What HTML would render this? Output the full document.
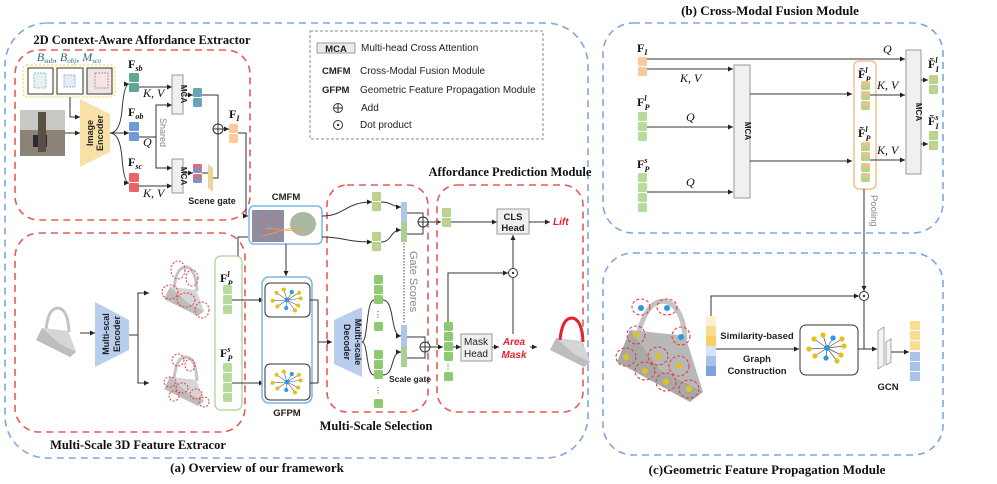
<!DOCTYPE html>
<html><head><meta charset="utf-8"><style>
html,body{margin:0;padding:0;background:#fff}
svg{display:block}
.t{font-family:"Liberation Serif",serif;font-weight:bold;font-size:12.5px;fill:#111}
.s{font-family:"Liberation Sans",sans-serif;font-size:10px;fill:#222}
.sb{font-family:"Liberation Sans",sans-serif;font-size:9.5px;font-weight:bold;fill:#222}
.m{font-family:"Liberation Serif",serif;font-style:italic;font-size:12px;fill:#111}
.F{font-family:"Liberation Serif",serif;font-weight:bold;font-size:12px;fill:#111}
.sub{font-family:"Liberation Serif",serif;font-style:italic;font-size:8px;fill:#111}
.ln{stroke:#333;stroke-width:1;fill:none}
</style></head><body>
<svg width="997" height="484" viewBox="0 0 997 484" xmlns="http://www.w3.org/2000/svg">
<defs>
<marker id="a" markerWidth="6" markerHeight="6" refX="5" refY="3" orient="auto"><path d="M0,0.5 L5,3 L0,5.5z" fill="#222"/></marker>
<linearGradient id="rb" x1="0" y1="0" x2="0" y2="1"><stop offset="0" stop-color="#e86a6a"/><stop offset="1" stop-color="#6f98d8"/></linearGradient>
<linearGradient id="tb" x1="0" y1="0" x2="0" y2="1"><stop offset="0" stop-color="#5fae98"/><stop offset="1" stop-color="#6f9ad8"/></linearGradient>
<linearGradient id="og" x1="0" y1="0" x2="0" y2="1"><stop offset="0" stop-color="#f6c08e"/><stop offset="1" stop-color="#a8d58a"/></linearGradient>
<linearGradient id="bg" x1="0" y1="0" x2="0" y2="1"><stop offset="0" stop-color="#aec6ea"/><stop offset="0.5" stop-color="#aec6ea"/><stop offset="0.5" stop-color="#a8d095"/><stop offset="1" stop-color="#a8d095"/></linearGradient>
<radialGradient id="gd"><stop offset="0" stop-color="#f0c090"/><stop offset="1" stop-color="#a6d98c"/></radialGradient>
<g id="graph">
<g stroke="#555" stroke-width="0.7"><line x1="0" y1="0" x2="-13" y2="-9"/><line x1="0" y1="0" x2="-4" y2="-13"/><line x1="0" y1="0" x2="6" y2="-10"/><line x1="0" y1="0" x2="15" y2="-9"/><line x1="0" y1="0" x2="17" y2="-2"/><line x1="0" y1="0" x2="14" y2="7"/><line x1="0" y1="0" x2="10" y2="13"/><line x1="0" y1="0" x2="-1" y2="10"/><line x1="0" y1="0" x2="-12" y2="8"/><line x1="0" y1="0" x2="-18" y2="1"/></g>
<g fill="#e2c21a"><circle cx="-13" cy="-9" r="2.6"/><circle cx="-4" cy="-13" r="2.6"/><circle cx="15" cy="-9" r="2.6"/><circle cx="17" cy="-2" r="2.6"/><circle cx="14" cy="7" r="2.6"/><circle cx="10" cy="13" r="2.6"/><circle cx="-12" cy="8" r="2.6"/><circle cx="-18" cy="1" r="2.6"/></g>
<g fill="#2a9ae0"><circle cx="0" cy="0" r="3"/><circle cx="6" cy="-10" r="2.6"/><circle cx="-1" cy="10" r="2.6"/></g>
</g>
<g id="bag">
<path d="M10,24 Q12,2 22,2 Q32,3 33,26" fill="none" stroke="#c4c4c4" stroke-width="3"/>
<polygon points="6,22 32,25 40,46 34,51 0,34" fill="#bdbdbd"/>
<polygon points="6,22 32,25 40,46 24,38" fill="#d6d6d6"/>
</g>
</defs>

<!-- (a) outer -->
<rect x="5" y="23" width="583" height="435" rx="42" fill="none" stroke="#7ea6e0" stroke-width="1.6" stroke-dasharray="7,5"/>
<text class="t" x="257" y="472" text-anchor="middle" style="font-size:13px">(a) Overview of our framework</text>

<!-- 2D extractor -->
<rect x="15" y="50" width="235" height="170" rx="24" fill="none" stroke="#e85a5a" stroke-width="1.6" stroke-dasharray="7,5"/>
<text class="t" x="142" y="44" text-anchor="middle">2D Context-Aware Affordance Extractor</text>
<rect x="23" y="65" width="92" height="32" rx="4" fill="#fffbe8" stroke="#f2cf60" stroke-width="1" stroke-dasharray="2,2"/>
<text x="69" y="61" text-anchor="middle" style="font-family:'Liberation Serif',serif;font-style:italic;font-size:12px;fill:#2d6b78">B<tspan font-size="7" dy="2">sub</tspan><tspan dy="-2">, B</tspan><tspan font-size="7" dy="2">obj</tspan><tspan dy="-2">, M</tspan><tspan font-size="7" dy="2">sce</tspan></text>
<rect x="28" y="68" width="25" height="26" fill="#fff" stroke="#333"/><rect x="34" y="73" width="12" height="15" fill="#e6f0ec" stroke="#7ab3a0" stroke-dasharray="2,1" stroke-width="0.7"/>
<rect x="57" y="68" width="26" height="26" fill="#fff" stroke="#333"/><rect x="64" y="75" width="11" height="12" fill="#e6ecf6" stroke="#7b9ed8" stroke-dasharray="2,1" stroke-width="0.7"/>
<rect x="87" y="68" width="25" height="26" fill="#e8e8e8" stroke="#333"/><rect x="95" y="73" width="13" height="15" fill="#f6e3e3" stroke="#e06060" stroke-dasharray="2,1" stroke-width="0.7"/>
<rect x="20" y="110" width="45" height="46" fill="#8b8278"/><rect x="20" y="110" width="45" height="20" fill="#c9c9c4"/><rect x="33" y="135" width="14" height="12" fill="#2a2a30"/><rect x="38" y="112" width="8" height="40" fill="#5a4f45"/>
<polygon points="80,99 110,114 110,152 80,167" fill="#f8e0a6"/>
<text class="sb" transform="translate(93,133) rotate(-90)" text-anchor="middle" style="font-size:9px">Image</text>
<text class="sb" transform="translate(103,133) rotate(-90)" text-anchor="middle" style="font-size:9px">Encoder</text>
<path class="ln" d="M70,97 V117 H80" marker-end="url(#a)"/>
<path class="ln" d="M65,133 H80" marker-end="url(#a)"/>
<path class="ln" d="M110,133 Q120,133 122,110 Q124,84 129,84" marker-end="url(#a)"/>
<path class="ln" d="M110,133 H129" marker-end="url(#a)"/>
<path class="ln" d="M110,133 Q120,133 122,158 Q124,183 129,183" marker-end="url(#a)"/>
<text class="F" x="128" y="68">F<tspan class="sub" dy="3">sb</tspan></text>
<rect x="129" y="73" width="10" height="9" rx="1.5" fill="#5fa896"/><rect x="129" y="83" width="10" height="9" rx="1.5" fill="#5fa896"/>
<text class="F" x="128" y="116">F<tspan class="sub" dy="3">ob</tspan></text>
<rect x="129" y="122" width="10" height="9" rx="1.5" fill="#6f9ad8"/><rect x="129" y="132" width="10" height="9" rx="1.5" fill="#6f9ad8"/>
<text class="F" x="128" y="166">F<tspan class="sub" dy="3">sc</tspan></text>
<rect x="129" y="173" width="10" height="9" rx="1.5" fill="#e86565"/><rect x="129" y="183" width="10" height="9" rx="1.5" fill="#e86565"/>
<text class="m" x="143" y="97">K, V</text><text class="m" x="143" y="146">Q</text><text class="m" x="143" y="197">K, V</text>
<path class="ln" d="M139,87 H172" marker-end="url(#a)"/>
<path class="ln" d="M139,137 H156 V105 H172" marker-end="url(#a)"/>
<path class="ln" d="M156,137 V168 H172" marker-end="url(#a)"/>
<path class="ln" d="M139,186 H172" marker-end="url(#a)"/>
<text class="s" transform="translate(160,118) rotate(90)" style="fill:#888;font-size:9px">Shared</text>
<rect x="172" y="75" width="11" height="39" fill="#f0f0f0" stroke="#999"/>
<text class="sb" transform="translate(181,94) rotate(90)" text-anchor="middle" style="font-size:8px">MCA</text>
<rect x="172" y="159" width="11" height="34" fill="#f0f0f0" stroke="#999"/>
<text class="sb" transform="translate(181,176) rotate(90)" text-anchor="middle" style="font-size:8px">MCA</text>
<path class="ln" d="M183,95 H193" marker-end="url(#a)"/>
<rect x="193" y="88" width="9" height="9" rx="1.5" fill="url(#tb)"/><rect x="193" y="98" width="9" height="9" rx="1.5" fill="url(#tb)"/>
<path class="ln" d="M183,173 H193" marker-end="url(#a)"/>
<rect x="193" y="164" width="9" height="9" rx="1.5" fill="url(#rb)"/><rect x="193" y="174" width="9" height="9" rx="1.5" fill="url(#rb)"/>
<path class="ln" d="M202,173 H208"/>
<polygon points="208,164 213,168 213,192 208,188" fill="#ecd39a"/>
<path class="ln" d="M202,95 H218 V124"/>
<path class="ln" d="M213,178 H218 V134"/>
<circle cx="218" cy="129" r="5" fill="#fff" stroke="#333"/><path class="ln" d="M213,129 H223 M218,124 V134"/>
<path class="ln" d="M223,129 H229" marker-end="url(#a)"/>
<text class="F" x="229" y="118">F<tspan class="sub" dy="3">I</tspan></text>
<rect x="229" y="124" width="9" height="9" rx="1.5" fill="#fcc99a"/><rect x="229" y="134" width="9" height="9" rx="1.5" fill="#fcc99a"/>
<text class="sb" x="212" y="204" text-anchor="middle" style="font-size:9px">Scene gate</text>
<path class="ln" d="M238,133 H246 V216 H248" marker-end="url(#a)"/>

<!-- legend -->
<rect x="310" y="31" width="233" height="108" fill="none" stroke="#888" stroke-dasharray="3,2"/>
<rect x="317" y="43" width="38" height="10" fill="#ececec" stroke="#999"/>
<text class="sb" x="336" y="52" text-anchor="middle">MCA</text>
<text class="s" x="361" y="51">Multi-head Cross Attention</text>
<text class="sb" x="322" y="74">CMFM</text><text class="s" x="360" y="74">Cross-Modal Fusion Module</text>
<text class="sb" x="322" y="93">GFPM</text><text class="s" x="360" y="93">Geometric Feature Propagation Module</text>
<circle cx="338" cy="108" r="4.5" fill="#fff" stroke="#333"/><path class="ln" d="M333.5,108 H342.5 M338,103.5 V112.5"/>
<text class="s" x="361" y="111">Add</text>
<circle cx="338" cy="125" r="4.5" fill="#fff" stroke="#333"/><circle cx="338" cy="125" r="1.2" fill="#333"/>
<text class="s" x="360" y="128">Dot product</text>

<!-- CMFM -->
<text class="sb" x="286" y="200" text-anchor="middle">CMFM</text>
<rect x="249" y="206" width="73" height="38" rx="5" fill="#fff" stroke="#7bb6ee" stroke-width="1.5"/>
<rect x="252" y="210" width="32" height="32" fill="#8f8ea0"/><path d="M252,221 H284 M252,232 H284 M263,210 V242 M274,210 V242" stroke="#d66" stroke-width="0.6"/>
<ellipse cx="303" cy="224" rx="13" ry="12" fill="#a9b8a0"/><path d="M262,236 L300,226 M266,228 L305,232" stroke="#f0a040" stroke-width="0.8"/>
<path class="ln" d="M238,256 V237 H248" />
<path class="ln" d="M286,244 V276" marker-end="url(#a)"/>

<!-- 3D extractor -->
<rect x="15" y="233" width="230" height="199" rx="24" fill="none" stroke="#e85a5a" stroke-width="1.6" stroke-dasharray="7,5"/>
<text class="t" x="138" y="449" text-anchor="middle">Multi-Scale 3D Feature Extracor</text>
<use href="#bag" x="36" y="306"/>
<path class="ln" d="M80,333 H95" marker-end="url(#a)"/>
<polygon points="95,302 129,320 129,350 95,367" fill="#b9cdee"/>
<text class="sb" transform="translate(109,334) rotate(-90)" text-anchor="middle" style="font-size:9px">Multi-scal</text>
<text class="sb" transform="translate(120,334) rotate(-90)" text-anchor="middle" style="font-size:9px">Encoder</text>
<path class="ln" d="M129,335 H138 V293 H148 M138,335 V383 H148"/>
<path class="ln" d="M140,293 H149" marker-end="url(#a)"/><path class="ln" d="M140,383 H149" marker-end="url(#a)"/>
<use href="#bag" x="164" y="265"/>
<use href="#bag" x="164" y="355"/>
<g fill="none" stroke="#e83c3c" stroke-dasharray="2,1.5" stroke-width="1">
<ellipse cx="178" cy="270" rx="7" ry="9"/><ellipse cx="192" cy="278" rx="6" ry="8"/><ellipse cx="170" cy="292" rx="8" ry="7"/><ellipse cx="186" cy="300" rx="9" ry="7"/><ellipse cx="202" cy="310" rx="7" ry="8"/>
<ellipse cx="178" cy="360" rx="6" ry="6"/><ellipse cx="190" cy="365" rx="5" ry="6"/><ellipse cx="170" cy="382" rx="6" ry="5"/><ellipse cx="182" cy="388" rx="6" ry="5"/><ellipse cx="196" cy="394" rx="6" ry="5"/><ellipse cx="204" cy="402" rx="5" ry="5"/><ellipse cx="174" cy="396" rx="5" ry="5"/>
</g>
<rect x="215" y="256" width="27" height="154" rx="6" fill="none" stroke="#a8d28c" stroke-width="1.2"/>
<text class="F" x="220" y="282">F<tspan class="sub" dy="-5">l</tspan><tspan class="sub" dx="-2" dy="9">P</tspan></text>
<g fill="#b6dc9c"><rect x="223" y="285" width="9" height="9" rx="1.5"/><rect x="223" y="295" width="9" height="9" rx="1.5"/><rect x="223" y="305" width="9" height="9" rx="1.5"/></g>
<text class="F" x="220" y="357">F<tspan class="sub" dy="-5">s</tspan><tspan class="sub" dx="-3" dy="9">P</tspan></text>
<g fill="#b6dc9c"><rect x="223" y="363" width="9" height="9" rx="1.5"/><rect x="223" y="373" width="9" height="9" rx="1.5"/><rect x="223" y="383" width="9" height="9" rx="1.5"/><rect x="223" y="393" width="9" height="9" rx="1.5"/></g>
<path class="ln" d="M232,300 H264" marker-end="url(#a)"/><path class="ln" d="M232,383 H264" marker-end="url(#a)"/>

<!-- GFPM -->
<rect x="262" y="277" width="50" height="126" rx="7" fill="#fff" stroke="#7bb6ee" stroke-width="1.5"/>
<rect x="265" y="283" width="45" height="34" rx="5" fill="#fff" stroke="#333"/>
<rect x="265" y="364" width="45" height="36" rx="5" fill="#fff" stroke="#333"/>
<use href="#graph" transform="translate(287,300) scale(0.8)"/>
<use href="#graph" transform="translate(287,382) scale(0.8)"/>
<text class="sb" x="287" y="416" text-anchor="middle">GFPM</text>
<path class="ln" d="M310,300 H318 V383 H310 M318,342 H332" marker-end="url(#a)"/>

<!-- Multi-scale selection -->
<rect x="327" y="185" width="101" height="227" rx="20" fill="none" stroke="#e85a5a" stroke-width="1.6" stroke-dasharray="7,5"/>
<text class="t" x="376" y="430" text-anchor="middle">Multi-Scale Selection</text>
<polygon points="334,320 362,307 362,377 334,364" fill="#b9cdee"/>
<text class="sb" transform="translate(344,342) rotate(90)" text-anchor="middle" style="font-size:9px">Decoder</text>
<text class="sb" transform="translate(355,342) rotate(90)" text-anchor="middle" style="font-size:9px">Multi-scale</text>
<path class="ln" d="M322,216 C345,216 345,202 372,202" marker-end="url(#a)"/>
<path class="ln" d="M322,237 C345,237 345,242 372,242" marker-end="url(#a)"/>
<g fill="url(#gd)"><rect x="372" y="192" width="9" height="9" rx="1.5"/><rect x="372" y="202" width="9" height="9" rx="1.5"/><rect x="372" y="232" width="9" height="9" rx="1.5"/><rect x="372" y="242" width="9" height="9" rx="1.5"/></g>
<path class="ln" d="M381,202 C392,202 392,207 401,207" marker-end="url(#a)"/>
<path class="ln" d="M381,242 C392,242 390,230 401,230" marker-end="url(#a)"/>
<rect x="401" y="202" width="6" height="40" fill="url(#bg)"/>
<path class="ln" d="M407,213 H423 V217 M407,234 H423 V227"/>
<circle cx="423" cy="222" r="5" fill="#fff" stroke="#333"/><path class="ln" d="M418,222 H428 M423,217 V227"/>
<path class="ln" d="M428,222 H441" marker-end="url(#a)"/>
<g fill="#8fca72"><rect x="374" y="275" width="9" height="9" rx="1.5"/><rect x="374" y="285" width="9" height="9" rx="1.5"/><rect x="374" y="295" width="9" height="9" rx="1.5"/><rect x="374" y="322" width="9" height="9" rx="1.5"/>
<rect x="374" y="350" width="9" height="9" rx="1.5"/><rect x="374" y="360" width="9" height="9" rx="1.5"/><rect x="374" y="370" width="9" height="9" rx="1.5"/><rect x="374" y="399" width="9" height="9" rx="1.5"/></g>
<text class="s" x="378" y="317" text-anchor="middle" style="font-size:8px">⋮</text><text class="s" x="378" y="393" text-anchor="middle" style="font-size:8px">⋮</text>
<path class="ln" d="M362,342 C368,342 366,300 374,300 M362,342 C368,342 366,375 374,375"/>
<path class="ln" d="M383,300 C395,300 390,336 401,336" marker-end="url(#a)"/>
<path class="ln" d="M383,375 C395,375 390,352 401,352" marker-end="url(#a)"/>
<rect x="401" y="325" width="6" height="42" fill="url(#bg)"/>
<path d="M404,243 V324" stroke="#444" stroke-dasharray="1.5,1.5"/>
<text class="s" transform="translate(410,251) rotate(90)" style="fill:#888;font-size:11px">Gate Scores</text>
<text class="sb" x="410" y="382" text-anchor="middle" style="font-size:8.5px">Scale gate</text>
<path class="ln" d="M407,337 H425 V342 M407,358 H425 V352"/>
<circle cx="425" cy="347" r="5" fill="#fff" stroke="#333"/><path class="ln" d="M420,347 H430 M425,342 V352"/>
<path class="ln" d="M430,347 H443" marker-end="url(#a)"/>

<!-- Affordance prediction -->
<rect x="437" y="185" width="146" height="227" rx="20" fill="none" stroke="#e85a5a" stroke-width="1.6" stroke-dasharray="7,5"/>
<text class="t" x="510" y="176" text-anchor="middle">Affordance Prediction Module</text>
<g fill="url(#gd)"><rect x="442" y="208" width="9" height="9" rx="1.5"/><rect x="442" y="218" width="9" height="9" rx="1.5"/></g>
<path class="ln" d="M451,222 H497" marker-end="url(#a)"/>
<rect x="497" y="209" width="32" height="25" fill="#f0f0f0" stroke="#999"/>
<text class="sb" x="513" y="220" text-anchor="middle">CLS</text><text class="sb" x="513" y="231" text-anchor="middle">Head</text>
<path class="ln" d="M529,222 H550" marker-end="url(#a)"/>
<text x="553" y="225" style="font-family:'Liberation Sans',sans-serif;font-weight:bold;font-style:italic;font-size:10px;fill:#e8222a">Lift</text>
<g fill="#8fca72"><rect x="444" y="322" width="9" height="9" rx="1.5"/><rect x="444" y="332" width="9" height="9" rx="1.5"/><rect x="444" y="342" width="9" height="9" rx="1.5"/><rect x="444" y="352" width="9" height="9" rx="1.5"/><rect x="444" y="372" width="9" height="9" rx="1.5"/></g>
<text class="s" x="448" y="369" text-anchor="middle" style="font-size:7px">⋮</text>
<path class="ln" d="M448,322 V273 H508" marker-end="url(#a)"/>
<circle cx="513" cy="273" r="4.5" fill="#fff" stroke="#333"/><circle cx="513" cy="273" r="1.2" fill="#333"/>
<path class="ln" d="M513,268 V235" marker-end="url(#a)"/>
<path class="ln" d="M513,334 V278"/>
<path class="ln" d="M453,347 H461" marker-end="url(#a)"/>
<rect x="461" y="334" width="31" height="27" fill="#f0f0f0" stroke="#999"/>
<text class="s" x="476" y="345" text-anchor="middle">Mask</text><text class="s" x="476" y="357" text-anchor="middle">Head</text>
<path class="ln" d="M492,347 H499" marker-end="url(#a)"/>
<g style="font-family:'Liberation Sans',sans-serif;font-weight:bold;font-style:italic;font-size:10px;fill:#e8222a"><text x="514" y="345" text-anchor="middle">Area</text><text x="514" y="358" text-anchor="middle">Mask</text></g>
<path class="ln" d="M530,347 H537" marker-end="url(#a)"/>
<use href="#bag" x="550" y="316"/>
<path d="M560,340 Q562,318 572,318 Q582,319 583,342" fill="none" stroke="#e8222a" stroke-width="3"/>

<!-- (b) CMFM -->
<text class="t" x="770" y="15" text-anchor="middle" style="font-size:13px">(b) Cross-Modal Fusion Module</text>
<rect x="603" y="23" width="340" height="210" rx="30" fill="none" stroke="#7ea6e0" stroke-width="1.6" stroke-dasharray="7,5"/>
<text class="F" x="637" y="52">F<tspan class="sub" dy="3">I</tspan></text>
<rect x="638" y="57" width="9" height="9" rx="1.5" fill="#fcc99a"/><rect x="638" y="67" width="9" height="9" rx="1.5" fill="#fcc99a"/>
<path class="ln" d="M647,59 H905" marker-end="url(#a)"/><text class="m" x="883" y="53">Q</text>
<path class="ln" d="M647,69 H733" marker-end="url(#a)"/><text class="m" x="680" y="82">K, V</text>
<text class="F" x="637" y="106">F<tspan class="sub" dy="-5">l</tspan><tspan class="sub" dx="-2" dy="9">P</tspan></text>
<g fill="#b6dc9c"><rect x="638" y="112" width="9" height="9" rx="1.5"/><rect x="638" y="122" width="9" height="9" rx="1.5"/><rect x="638" y="132" width="9" height="9" rx="1.5"/></g>
<path class="ln" d="M647,127 H733" marker-end="url(#a)"/><text class="m" x="686" y="121">Q</text>
<text class="F" x="637" y="168">F<tspan class="sub" dy="-5">s</tspan><tspan class="sub" dx="-3" dy="9">P</tspan></text>
<g fill="#b6dc9c"><rect x="638" y="173" width="9" height="9" rx="1.5"/><rect x="638" y="183" width="9" height="9" rx="1.5"/><rect x="638" y="193" width="9" height="9" rx="1.5"/><rect x="638" y="203" width="9" height="9" rx="1.5"/></g>
<path class="ln" d="M647,192 H733" marker-end="url(#a)"/><text class="m" x="686" y="186">Q</text>
<rect x="734" y="65" width="16" height="133" fill="#f0f0f0" stroke="#999"/>
<text class="sb" transform="translate(745,131) rotate(90)" text-anchor="middle" style="font-size:8px">MCA</text>
<path class="ln" d="M750,94 H852" marker-end="url(#a)"/><path class="ln" d="M750,161 H852" marker-end="url(#a)"/>
<rect x="854" y="61" width="22" height="128" rx="5" fill="none" stroke="#f5b27a" stroke-width="1.2"/>
<text class="F" x="858" y="78">F̃<tspan class="sub" dy="-5">l</tspan><tspan class="sub" dx="-2" dy="9">P</tspan></text>
<g fill="url(#og)"><rect x="861" y="81" width="9" height="9" rx="1.5"/><rect x="861" y="91" width="9" height="9" rx="1.5"/><rect x="861" y="101" width="9" height="9" rx="1.5"/></g>
<text class="F" x="858" y="137">F̃<tspan class="sub" dy="-5">l</tspan><tspan class="sub" dx="-2" dy="9">P</tspan></text>
<g fill="url(#og)"><rect x="861" y="142" width="9" height="9" rx="1.5"/><rect x="861" y="152" width="9" height="9" rx="1.5"/><rect x="861" y="163" width="9" height="9" rx="1.5"/><rect x="861" y="173" width="9" height="9" rx="1.5"/></g>
<path class="ln" d="M870,95 H905" marker-end="url(#a)"/><text class="m" x="877" y="89">K, V</text>
<path class="ln" d="M870,160 H905" marker-end="url(#a)"/><text class="m" x="877" y="154">K, V</text>
<rect x="906" y="50" width="15" height="124" fill="#f0f0f0" stroke="#999"/>
<text class="sb" transform="translate(916,112) rotate(90)" text-anchor="middle" style="font-size:8px">MCA</text>
<path class="ln" d="M921,80 H928" marker-end="url(#a)"/><path class="ln" d="M921,144 H928" marker-end="url(#a)"/>
<text class="F" x="928" y="68">F̃<tspan class="sub" dy="-5">l</tspan><tspan class="sub" dx="-2" dy="9">I</tspan></text>
<g fill="url(#gd)"><rect x="929" y="75" width="9" height="9" rx="1.5"/><rect x="929" y="85" width="9" height="9" rx="1.5"/></g>
<text class="F" x="928" y="125">F̃<tspan class="sub" dy="-5">s</tspan><tspan class="sub" dx="-3" dy="9">I</tspan></text>
<g fill="url(#gd)"><rect x="929" y="131" width="9" height="9" rx="1.5"/><rect x="929" y="141" width="9" height="9" rx="1.5"/></g>
<path class="ln" d="M864,189 V291" marker-end="url(#a)"/>
<text class="s" transform="translate(871,195) rotate(90)" style="fill:#888;font-size:9.5px">Pooling</text>

<!-- (c) GFPM -->
<rect x="603" y="253" width="340" height="202" rx="30" fill="none" stroke="#7ea6e0" stroke-width="1.6" stroke-dasharray="7,5"/>
<text class="t" x="767" y="474" text-anchor="middle" style="font-size:13px">(c)Geometric Feature Propagation Module</text>
<path d="M638,335 Q648,296 668,302 Q684,310 685,340" fill="none" stroke="#c4c4c4" stroke-width="5"/>
<polygon points="630,330 685,336 703,392 690,402 617,362" fill="#a8a8a8"/>
<polygon points="630,330 685,336 703,392 660,370" fill="#b8b8b8"/>
<g fill="none" stroke="#e83c3c" stroke-dasharray="3,2" stroke-width="1.1">
<ellipse cx="641" cy="307" rx="9" ry="8"/><ellipse cx="667" cy="307" rx="10" ry="8"/><ellipse cx="681" cy="336" rx="9" ry="9"/><ellipse cx="636" cy="335" rx="9" ry="9"/><ellipse cx="626" cy="357" rx="10" ry="9"/><ellipse cx="658" cy="356" rx="10" ry="9"/><ellipse cx="645" cy="371" rx="10" ry="9"/><ellipse cx="679" cy="366" rx="10" ry="10"/><ellipse cx="666" cy="382" rx="10" ry="9"/><ellipse cx="689" cy="389" rx="10" ry="9"/>
</g>
<g fill="#e2c21a"><circle cx="636" cy="335" r="3"/><circle cx="626" cy="357" r="3"/><circle cx="658" cy="356" r="3"/><circle cx="645" cy="371" r="3"/><circle cx="679" cy="366" r="3"/><circle cx="666" cy="382" r="3"/><circle cx="689" cy="389" r="3"/></g>
<g fill="#2a9ae0"><circle cx="641" cy="308" r="3"/><circle cx="667" cy="308" r="3"/><circle cx="681" cy="337" r="3"/></g>
<rect x="706" y="316" width="10" height="10" fill="#fdf0cf"/><rect x="706" y="326" width="10" height="10" fill="#fbdd92"/><rect x="706" y="336" width="10" height="10" fill="#f9cf66"/><rect x="706" y="346" width="10" height="10" fill="#d7e3f6"/><rect x="706" y="356" width="10" height="10" fill="#a9c2ea"/><rect x="706" y="366" width="10" height="10" fill="#7ba4df"/>
<path class="ln" d="M711,316 V296 H859" marker-end="url(#a)"/>
<circle cx="864" cy="296" r="4.5" fill="#fff" stroke="#333"/><circle cx="864" cy="296" r="1.2" fill="#333"/>
<path class="ln" d="M716,349 H799" marker-end="url(#a)"/>
<text class="sb" x="757" y="339" text-anchor="middle">Similarity-based</text>
<text class="sb" x="757" y="362" text-anchor="middle">Graph</text><text class="sb" x="757" y="374" text-anchor="middle">Construction</text>
<rect x="800" y="325" width="58" height="50" rx="6" fill="#fff" stroke="#333"/>
<use href="#graph" transform="translate(827,348) scale(1)"/>
<path class="ln" d="M864,301 V349 M858,349 H877" marker-end="url(#a)"/>
<polygon points="878,331 884,327 884,365 878,369" fill="#f4f4f4" stroke="#888" stroke-width="0.7"/>
<polygon points="886,342 891,339 891,362 886,365" fill="#f4f4f4" stroke="#888" stroke-width="0.7"/>
<text class="sb" x="888" y="390" text-anchor="middle">GCN</text>
<path class="ln" d="M891,352 H909" marker-end="url(#a)"/>
<g fill="#fbdd92"><rect x="910" y="321" width="10" height="9"/><rect x="910" y="331" width="10" height="9"/><rect x="910" y="341" width="10" height="9"/></g>
<g fill="#a9c2ea"><rect x="910" y="352" width="10" height="9"/><rect x="910" y="362" width="10" height="9"/><rect x="910" y="372" width="10" height="9"/></g>
</svg>
</body></html>
